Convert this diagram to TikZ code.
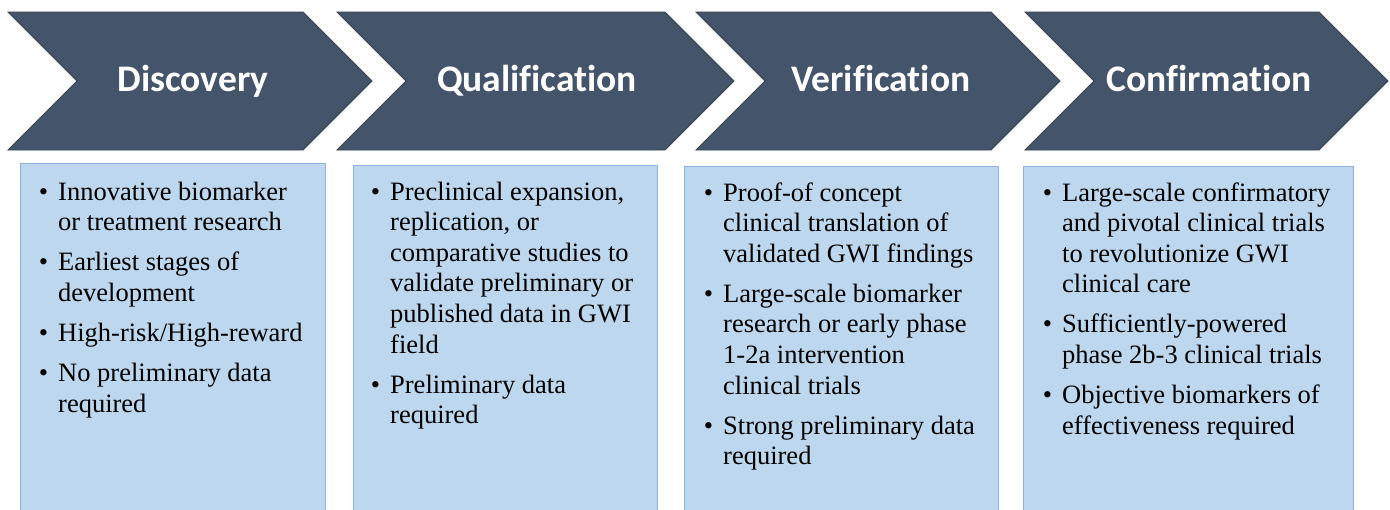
\documentclass[tikz,border=0pt]{standalone}
\usepackage{fontspec}
\setmainfont{Liberation Serif}
\newfontfamily\headfont[Ligatures=NoCommon]{Carlito}
\definecolor{chev}{HTML}{44546A}
\definecolor{chevline}{HTML}{36424F}
\definecolor{boxfill}{HTML}{BDD7EE}
\definecolor{boxline}{HTML}{8DB3E2}
\newcommand\bitem[1]{\par\noindent\llap{\textbullet\hspace{10pt}}#1\par}
\newcommand\itemgap{\vspace{9.5pt}}
\newcommand\bodyfont{\fontsize{26.5}{30.6}\selectfont\raggedright}
\begin{document}
\begin{tikzpicture}[x=1pt,y=-1pt,
  chevron/.style={fill=chev, draw=chevline, line width=0.8pt, line join=miter},
  headtext/.style={font=\headfont\bfseries\fontsize{37.5}{40}\selectfont, text=white, inner sep=0pt, anchor=base},
  infobox/.style={fill=boxfill, draw=boxline, line width=1pt, anchor=north west, inner sep=0pt},
  bodytext/.style={anchor=base west, inner sep=0pt, align=left}]
\useasboundingbox (0,0) rectangle (1390,509);
\clip (0,0) rectangle (1390,509);

% chevrons
\draw[chevron] (8,12) -- (303,12) -- (372,81) -- (303,150) -- (8,150) -- (77,81) -- cycle;
\draw[chevron] (337,12) -- (665,12) -- (734,81) -- (665,150) -- (337,150) -- (406,81) -- cycle;
\draw[chevron] (696,12) -- (991,12) -- (1060,81) -- (991,150) -- (696,150) -- (765,81) -- cycle;
\draw[chevron] (1025,12) -- (1319,12) -- (1388,81) -- (1319,150) -- (1025,150) -- (1094,81) -- cycle;

\node[headtext] (h1) at (193,91) {Discovery};
\node[headtext] (h2) at (537,91) {Qualification};
\node[headtext] (h3) at (881,91) {Verification};
\node[headtext] (h4) at (1209,91) {Confirmation};

% boxes
\node[infobox, minimum width=305pt, minimum height=370pt] (b1) at (20,163) {};
\node[infobox, minimum width=304pt, minimum height=370pt] (b2) at (353,165) {};
\node[infobox, minimum width=314pt, minimum height=370pt] (b3) at (684,166) {};
\node[infobox, minimum width=330pt, minimum height=370pt] (b4) at (1023,166) {};

\node[bodytext] (t1) at (58,200) {\begin{minipage}[t]{265pt}\bodyfont
\bitem{Innovative biomarker\\or treatment research}\itemgap
\bitem{Earliest stages of\\development}\itemgap
\bitem{High-risk/High-reward}\itemgap
\bitem{No preliminary data\\required}
\end{minipage}};

\node[bodytext] (t2) at (390,200) {\begin{minipage}[t]{265pt}\bodyfont
\bitem{Preclinical expansion,\\replication, or\\comparative studies to\\validate preliminary or\\published data in GWI\\field}\itemgap
\bitem{Preliminary data\\required}
\end{minipage}};

\node[bodytext] (t3) at (723,201) {\begin{minipage}[t]{270pt}\bodyfont
\bitem{Proof-of concept\\clinical translation of\\validated GWI findings}\itemgap
\bitem{Large-scale biomarker\\research or early phase\\1-2a intervention\\clinical trials}\itemgap
\bitem{Strong preliminary data\\required}
\end{minipage}};

\node[bodytext] (t4) at (1062,201) {\begin{minipage}[t]{285pt}\bodyfont
\bitem{Large-scale confirmatory\\and pivotal clinical trials\\to revolutionize GWI\\clinical care}\itemgap
\bitem{Sufficiently-powered\\phase 2b-3 clinical trials}\itemgap
\bitem{Objective biomarkers of\\effectiveness required}
\end{minipage}};
\end{tikzpicture}
\end{document}
